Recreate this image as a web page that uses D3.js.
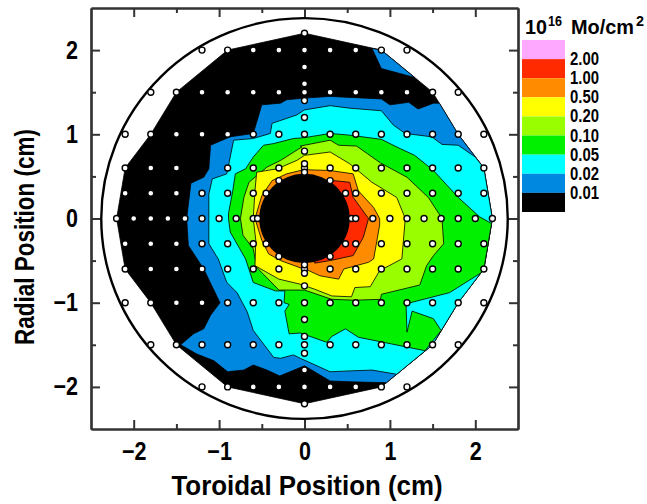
<!DOCTYPE html>
<html>
<head>
<meta charset="utf-8">
<script src="https://cdn.jsdelivr.net/npm/d3@7.9.0/dist/d3.min.js"></script>
<style>
html, body { margin: 0; padding: 0; background: #fff; }
text { font-family: "Liberation Sans", Arial, sans-serif; font-weight: bold; fill: #000; }
</style>
</head>
<body>
<svg id="chart" width="647" height="504"></svg>
<script>
// legend levels, top (pink) to bottom (black)
const levelLabels = ["2.00", "1.00", "0.50", "0.20", "0.10", "0.05", "0.02", "0.01"];
const levelColors = ["#ffa8ff", "#ff2a00", "#ff8c00", "#ffff00", "#99ff00", "#00f000", "#00ffff", "#0088e0", "#000000"];

// contour outlines in cm, [toroidal, radial]
const black001 = [[0,2.2],[.9,2],[1.5,1.5],[1.8,1],[2.1,.6],[2.2,0],[2.1,-.6],[1.8,-1],[1.5,-1.5],[.9,-2],[0,-2.2],[-.9,-2],[-1.5,-1.5],[-1.8,-1],[-2.1,-.6],[-2.2,0],[-2.1,.6],[-1.8,1],[-1.5,1.5],[-.9,2]];
const blue002 = [[0,1.43],[.3,1.45],[.9,1.42],[1,1.35],[1.22,1.38],[1.33,1.3],[1.51,1.37],[1.58,1.37],[1.8,1],[2.1,.6],[2.2,0],[2.1,-.6],[1.8,-1],[1.5,-1.5],[1.08,-1.85],[.96,-1.95],[.55,-1.94],[.3,-1.93],[0,-1.75],[-.29,-1.87],[-.44,-1.8],[-.6,-1.74],[-.71,-1.8],[-.9,-1.82],[-1.06,-1.69],[-1.26,-1.61],[-1.45,-1.5],[-1.3,-1.37],[-1.18,-1.31],[-1.1,-1.15],[-.99,-1],[-1.18,-.6],[-1.36,-.32],[-1.38,0],[-1.33,.42],[-1.18,.49],[-1.12,.59],[-1.1,.87],[-.87,.97],[-.6,1.01],[-.5,1.35],[-.28,1.37],[-.21,1.41]];
const blue002Top = [[.79,2.02],[.9,2],[1.29,1.675],[.9,1.78]];
const cyan005 = [[0,1.29],[.3,1.34],[.53,1.31],[.9,1.28],[1.04,1.11],[1.18,1.01],[1.49,.97],[1.61,.88],[1.8,.87],[2,.73],[2.1,.6],[2.2,0],[2.1,-.6],[1.8,-1],[1.5,-1.5],[1.08,-1.85],[.79,-1.8],[.53,-1.81],[.3,-1.82],[-.05,-1.66],[-.13,-1.62],[-.28,-1.66],[-.36,-1.65],[-.6,-1.33],[-.67,-1.11],[-.79,-.88],[-.91,-.76],[-1.01,-.48],[-1.12,-.3],[-1.12,0],[-1.12,.29],[-1.08,.47],[-.91,.53],[-.89,.63],[-.83,.93],[-.6,.95],[-.4,1.01],[-.38,1.13],[-.09,1.23]];
const green010 = [[0,.96],[.3,1.01],[.53,.99],[.9,.94],[1.12,.83],[1.29,.75],[1.51,.57],[1.8,.25],[2.05,.02],[2.19,-.06],[2.1,-.6],[2.06,-.65],[1.7,-.88],[1.24,-1],[1.19,-1.04],[1.2,-1.35],[1.26,-1.1],[1.51,-1.19],[1.6,-1.33],[1.41,-1.57],[1.02,-1.49],[.63,-1.41],[.48,-1.31],[.32,-1.4],[.26,-1.47],[-.05,-1.36],[-.18,-1.37],[-.23,-1.1],[-.18,-1.02],[-.24,-1],[-.23,-.86],[-.34,-.86],[-.6,-.76],[-.69,-.48],[-.87,-.16],[-.89,0],[-.89,.06],[-.84,.33],[-.81,.53],[-.69,.59],[-.6,.73],[-.48,.87],[-.36,.89],[-.13,.95]];
const lime020 = [[-.05,.86],[.3,.93],[.4,.87],[.61,.86],[.89,.66],[1.2,.49],[1.45,.25],[1.61,0],[1.63,-.3],[1.51,-.44],[1.43,-.56],[1.35,-.79],[.9,-.9],[.89,-.96],[.59,-.97],[.32,-.96],[0,-.85],[-.3,-.85],[-.56,-.58],[-.6,-.36],[-.72,-.2],[-.75,0],[-.71,.25],[-.65,.43],[-.44,.61],[-.28,.69],[-.03,.85]];
const yellow050 = [[0,.75],[.3,.79],[.53,.65],[.79,.43],[1.08,.25],[1.18,0],[1.14,-.48],[.88,-.62],[.77,-.81],[.59,-.82],[.55,-.93],[.32,-.92],[.12,-.84],[-.05,-.78],[-.3,-.72],[-.58,-.56],[-.57,-.26],[-.6,0],[-.58,.33],[-.56,.55],[-.32,.59],[-.09,.69]];
const orange100 = [[.3,.57],[.57,.53],[.63,.33],[.81,.13],[.88,0],[.88,-.08],[.81,-.48],[.75,-.52],[.46,-.6],[.4,-.72],[.18,-.68],[.03,-.61],[-.01,-.6],[-.28,-.5],[-.42,-.42],[-.5,-.26],[-.58,0],[-.5,.27],[-.38,.45],[-.21,.53],[-.01,.58]];
const red200 = [[.34,.45],[.53,.43],[.57,.25],[.75,0],[.69,-.22],[.57,-.44],[.3,-.5],[.12,-.53],[0,0]];

// measurement positions: one radial value per row with its toroidal values
const rowY = [2, 1.5, 1, .6, .45, .3, 0, -.3, -.45, -.6, -1, -1.5, -2];
const rowX = [
    [-1.2,-.9,-.6,-.3,0,.3,.6,.9,1.2],
    [-1.8,-1.5,-1.2,-.9,-.6,-.3,0,.3,.6,.9,1.2,1.5,1.8],
    [-2.1,-1.8,-1.5,-1.2,-.9,-.6,-.3,0,.3,.6,.9,1.2,1.5,1.8,2.1],
    [-2.1,-1.8,-1.5,-.9,-.6,-.3,0,.3,.6,.9,1.2,1.5,1.8,2.1],
    [-.3,.3],
    [-2.1,-1.8,-1.5,-1.2,-.9,-.6,-.45,.48,.6,.9,1.2,1.5,1.8,2.1],
    [-2.2,-2,-1.8,-1.6,-1.4,-1.2,-1,-.8,-.6,-.55,.55,.6,.8,1,1.2,1.4,1.6,1.8,2,2.2],
    [-2.1,-1.8,-1.5,-1.2,-.9,-.6,-.45,.48,.6,.9,1.2,1.5,1.8,2.1],
    [-.3,.3],
    [-2.1,-1.8,-1.5,-1.2,-.9,-.6,-.3,0,.3,.6,.9,1.2,1.5,1.8,2.1],
    [-2.1,-1.8,-1.5,-1.2,-.9,-.6,-.3,0,.3,.6,.9,1.2,1.5,1.8,2.1],
    [-1.8,-1.5,-1.2,-.9,-.6,-.3,0,.3,.6,.9,1.2,1.5,1.8],
    [-1.2,-.9,-.6,-.3,0,.3,.6,.9,1.2]
];
// extra points up and down the x = 0 column
const columnY = [2.2,1.8,1.6,1.4,1.2,.8,.65,.55,-.55,-.65,-.8,-1.2,-1.4,-1.6,-1.8,-2.2];

const majorTicks = [-2, -1, 0, 1, 2];
const minorTicks = [-1.5, -.5, .5, 1.5];
const chamberRadius = 2.38;
const holeRadius = 0.53;

const svg = d3.select("#chart");
const margin = { top: 8, right: 129, bottom: 75, left: 91 };
const width = 647 - margin.left - margin.right;
const height = 504 - margin.top - margin.bottom;

const xScale = d3.scaleLinear().domain([-2.5, 2.5]).range([0, width]);
const yScale = d3.scaleLinear().domain([-2.5, 2.5]).range([height, 0]);

const g = svg.append("g").attr("transform", `translate(${margin.left},${margin.top})`);

// chamber outline
g.append("ellipse")
    .attr("cx", xScale(0)).attr("cy", yScale(0))
    .attr("rx", xScale(chamberRadius) - xScale(0))
    .attr("ry", yScale(0) - yScale(chamberRadius))
    .attr("fill", "#fff").attr("stroke", "#000").attr("stroke-width", 2.4);

// FUNCTION draw one filled contour
const line = d3.line().x(d => xScale(d[0])).y(d => yScale(d[1])).curve(d3.curveLinearClosed);
function drawContour(points, color) {
    g.append("path")
        .attr("d", line(points))
        .attr("fill", color)
        .attr("stroke", "#000")
        .attr("stroke-width", 0.8)
        .attr("stroke-linejoin", "round");
}

drawContour(black001, levelColors[8]);
drawContour(blue002, levelColors[7]);
drawContour(blue002Top, levelColors[7]);
drawContour(cyan005, levelColors[6]);
drawContour(green010, levelColors[5]);
drawContour(lime020, levelColors[4]);
drawContour(yellow050, levelColors[3]);
drawContour(orange100, levelColors[2]);
drawContour(red200, levelColors[1]);

// centre hole
g.append("ellipse")
    .attr("cx", xScale(0)).attr("cy", yScale(0))
    .attr("rx", xScale(holeRadius) - xScale(0))
    .attr("ry", yScale(0) - yScale(holeRadius))
    .attr("fill", "#000");

// measurement points
const samples = rowY.flatMap((y, i) => rowX[i].map(x => [x, y])).concat(columnY.map(y => [0, y]));
g.selectAll(".point")
    .data(samples)
    .enter()
    .append("circle")
    .attr("class", "point")
    .attr("cx", d => xScale(d[0]))
    .attr("cy", d => yScale(d[1]))
    .attr("r", 3)
    .attr("fill", "#fff")
    .attr("stroke", "#000")
    .attr("stroke-width", 1.4);

// FUNCTION HELPER style an axis group
function styleAxis(sel) {
    sel.selectAll("path, line").attr("stroke", "#333").attr("stroke-width", 2);
    sel.select(".domain").attr("stroke-width", 2.2);
    sel.selectAll("text").attr("font-size", 25).attr("fill", "#000")
        .style("font-family", '"Liberation Sans", Arial, sans-serif').style("font-weight", "bold");
}
const fmt = d => (d < 0 ? "\u2212" + Math.abs(d) : String(d));

// major ticks (with frame) and minor ticks on all four sides
[
    [d3.axisBottom(xScale), `translate(0,${height})`, fmt],
    [d3.axisTop(xScale), "", () => ""],
    [d3.axisLeft(yScale), "", fmt],
    [d3.axisRight(yScale), `translate(${width},0)`, () => ""]
].forEach(([axis, tr, format]) => {
    const major = g.append("g").attr("transform", tr)
        .call(axis.tickValues(majorTicks).tickSize(-9).tickSizeOuter(0).tickPadding(13).tickFormat(format))
        .call(styleAxis);
    // labels in the reference are narrower than the font
    major.selectAll("text").each(function () {
        const w = this.getComputedTextLength();
        if (w > 0) d3.select(this).attr("textLength", w * 0.86).attr("lengthAdjust", "spacingAndGlyphs");
    });
    g.append("g").attr("transform", tr)
        .call(axis.tickValues(minorTicks).tickSize(-5).tickSizeOuter(0).tickFormat(""))
        .call(styleAxis);
});

// axis titles
svg.append("text")
    .attr("x", 307).attr("y", 495)
    .attr("text-anchor", "middle").attr("font-size", 27)
    .attr("textLength", 271).attr("lengthAdjust", "spacingAndGlyphs")
    .text("Toroidal Position (cm)");
svg.append("text")
    .attr("transform", "translate(34,237) rotate(-90)")
    .attr("text-anchor", "middle").attr("font-size", 27)
    .attr("textLength", 216).attr("lengthAdjust", "spacingAndGlyphs")
    .text("Radial Position (cm)");

// legend
const legendY = d3.scaleBand().domain(d3.range(levelColors.length)).range([40, 212]);
svg.selectAll(".key")
    .data(levelColors)
    .enter()
    .append("rect")
    .attr("class", "key")
    .attr("x", 522)
    .attr("y", (d, i) => legendY(i))
    .attr("width", 43)
    .attr("height", legendY.bandwidth())
    .attr("fill", d => d);
svg.selectAll(".key-label")
    .data(levelLabels)
    .enter()
    .append("text")
    .attr("class", "key-label")
    .attr("x", 570)
    .attr("y", (d, i) => legendY(i + 1) + 6)
    .attr("font-size", 18)
    .attr("textLength", 29).attr("lengthAdjust", "spacingAndGlyphs")
    .text(d => d);

// legend title, pieces placed one by one so the superscripts stay clear
svg.append("text").attr("x", 525).attr("y", 34).attr("font-size", 21)
    .attr("textLength", 22).attr("lengthAdjust", "spacingAndGlyphs").text("10");
svg.append("text").attr("x", 548).attr("y", 26).attr("font-size", 14)
    .attr("textLength", 14).attr("lengthAdjust", "spacingAndGlyphs").text("16");
svg.append("text").attr("x", 571).attr("y", 34).attr("font-size", 21)
    .attr("textLength", 63).attr("lengthAdjust", "spacingAndGlyphs").text("Mo/cm");
svg.append("text").attr("x", 636).attr("y", 26).attr("font-size", 14)
    .attr("textLength", 8).attr("lengthAdjust", "spacingAndGlyphs").text("2");
</script>
</body>
</html>
